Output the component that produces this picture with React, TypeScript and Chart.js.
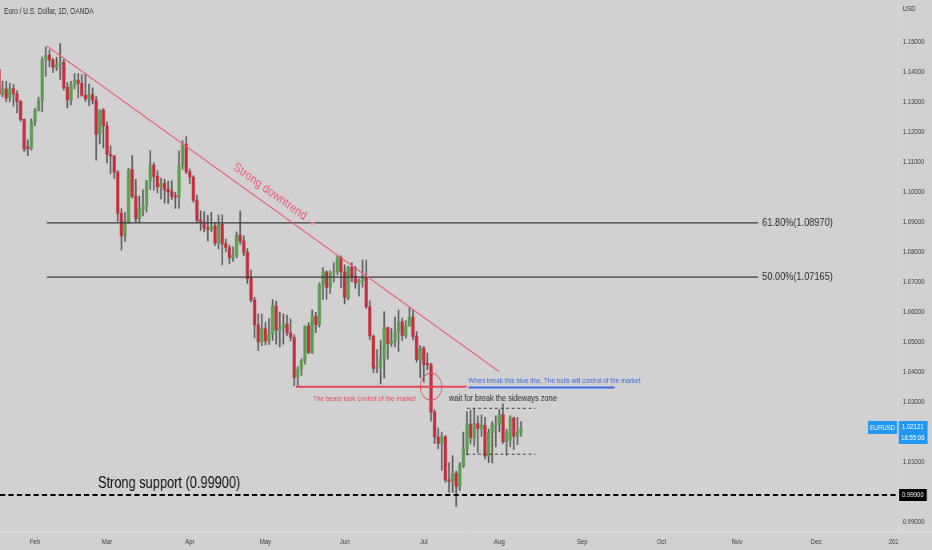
import React, { useEffect, useRef } from 'react';
import { Chart, registerables } from 'chart.js';

Chart.register(...registerables);

// ---- data (daily EUR/USD candles, index 0 = 18 Jan) ----
const candleOpen = [
  1.1408, 1.1325, 1.1344, 1.1313, 1.1345, 1.1327, 1.1302, 1.1242, 1.1150, 1.1145,
  1.1235, 1.1271, 1.1306, 1.1440, 1.1456, 1.1440, 1.1416, 1.1426, 1.1432, 1.1349,
  1.1307, 1.1357, 1.1373, 1.1362, 1.1322, 1.1310, 1.1325, 1.1305, 1.1193, 1.1273,
  1.1220, 1.1125, 1.1120, 1.1066, 1.0929, 1.0854, 1.0901, 1.1075, 1.0986, 1.0912,
  1.0941, 1.0955, 1.1037, 1.1090, 1.1052, 1.1017, 1.1029, 1.1009, 1.1001, 1.0986,
  1.0983, 1.1087, 1.1160, 1.1067, 1.1050, 1.0972, 1.0906, 1.0899, 1.0880, 1.0876,
  1.0886, 1.0830, 1.0892, 1.0827, 1.0815, 1.0780, 1.0790, 1.0856, 1.0836, 1.0799,
  1.0711, 1.0640, 1.0557, 1.0500, 1.0545, 1.0503, 1.0526, 1.0620, 1.0540, 1.0548,
  1.0560, 1.0530, 1.0515, 1.0382, 1.0410, 1.0438, 1.0553, 1.0465, 1.0585, 1.0558,
  1.0692, 1.0734, 1.0681, 1.0730, 1.0734, 1.0781, 1.0734, 1.0648, 1.0749, 1.0718,
  1.0697, 1.0705, 1.0716, 1.0617, 1.0520, 1.0412, 1.0416, 1.0446, 1.0548, 1.0495,
  1.0505, 1.0535, 1.0567, 1.0522, 1.0555, 1.0583, 1.0519, 1.0442, 1.0479, 1.0425,
  1.0424, 1.0266, 1.0183, 1.0162, 1.0185, 1.0040, 1.0035, 1.0061, 1.0019, 1.0086,
  1.0143, 1.0226, 1.0180, 1.0228, 1.0212, 1.0222, 1.0120, 1.0198, 1.0222, 1.0228,
  1.0258, 1.0168, 1.0172, 1.0247, 1.0185, 1.0198,
];
const candleHigh = [
  1.1429, 1.1370, 1.1369, 1.1363, 1.1359, 1.1338, 1.1305, 1.1243, 1.1174, 1.1244,
  1.1279, 1.1316, 1.1450, 1.1483, 1.1473, 1.1445, 1.1449, 1.1495, 1.1441, 1.1365,
  1.1369, 1.1395, 1.1395, 1.1391, 1.1395, 1.1360, 1.1347, 1.1318, 1.1274, 1.1278,
  1.1234, 1.1154, 1.1122, 1.1071, 1.0945, 1.0932, 1.1079, 1.1121, 1.1042, 1.0986,
  1.1007, 1.1038, 1.1138, 1.1097, 1.1071, 1.1046, 1.1042, 1.1036, 1.1037, 1.0999,
  1.1137, 1.1171, 1.1185, 1.1077, 1.1055, 1.0990, 1.0937, 1.0935, 1.0922, 1.0932,
  1.0899, 1.0923, 1.0924, 1.0843, 1.0823, 1.0817, 1.0867, 1.0936, 1.0854, 1.0811,
  1.0740, 1.0649, 1.0594, 1.0593, 1.0566, 1.0578, 1.0641, 1.0636, 1.0600, 1.0594,
  1.0590, 1.0577, 1.0524, 1.0418, 1.0444, 1.0553, 1.0565, 1.0606, 1.0599, 1.0697,
  1.0748, 1.0737, 1.0737, 1.0765, 1.0787, 1.0787, 1.0757, 1.0752, 1.0765, 1.0751,
  1.0710, 1.0774, 1.0773, 1.0637, 1.0524, 1.0475, 1.0505, 1.0601, 1.0549, 1.0545,
  1.0583, 1.0606, 1.0580, 1.0571, 1.0615, 1.0606, 1.0535, 1.0488, 1.0485, 1.0463,
  1.0430, 1.0274, 1.0213, 1.0200, 1.0188, 1.0097, 1.0121, 1.0070, 1.0097, 1.0200,
  1.0268, 1.0273, 1.0278, 1.0254, 1.0257, 1.0249, 1.0210, 1.0234, 1.0254, 1.0275,
  1.0294, 1.0210, 1.0254, 1.0250, 1.0248, 1.0235,
];
const candleLow = [
  1.1324, 1.1317, 1.1301, 1.1300, 1.1286, 1.1264, 1.1236, 1.1135, 1.1121, 1.1140,
  1.1220, 1.1270, 1.1268, 1.1385, 1.1418, 1.1398, 1.1405, 1.1375, 1.1340, 1.1280,
  1.1290, 1.1344, 1.1314, 1.1319, 1.1302, 1.1288, 1.1294, 1.1106, 1.1160, 1.1147,
  1.1097, 1.1061, 1.1045, 1.0902, 1.0806, 1.0835, 1.0896, 1.0980, 1.0900, 1.0897,
  1.0920, 1.0933, 1.1008, 1.1006, 1.0997, 1.0977, 1.0963, 1.0962, 1.0975, 1.0945,
  1.0945, 1.1075, 1.1061, 1.1028, 1.0965, 1.0898, 1.0872, 1.0867, 1.0837, 1.0869,
  1.0821, 1.0810, 1.0757, 1.0800, 1.0760, 1.0769, 1.0781, 1.0826, 1.0788, 1.0695,
  1.0634, 1.0514, 1.0471, 1.0488, 1.0490, 1.0492, 1.0505, 1.0493, 1.0484, 1.0493,
  1.0520, 1.0504, 1.0354, 1.0350, 1.0389, 1.0426, 1.0461, 1.0462, 1.0531, 1.0550,
  1.0642, 1.0643, 1.0661, 1.0700, 1.0724, 1.0680, 1.0627, 1.0641, 1.0701, 1.0679,
  1.0653, 1.0683, 1.0611, 1.0508, 1.0398, 1.0398, 1.0360, 1.0380, 1.0443, 1.0486,
  1.0484, 1.0469, 1.0505, 1.0513, 1.0552, 1.0508, 1.0434, 1.0381, 1.0366, 1.0407,
  1.0236, 1.0161, 1.0144, 1.0072, 1.0032, 0.9999, 0.9999, 0.9952, 1.0005, 1.0082,
  1.0124, 1.0160, 1.0153, 1.0130, 1.0185, 1.0110, 1.0098, 1.0097, 1.0150, 1.0200,
  1.0162, 1.0123, 1.0150, 1.0141, 1.0158, 1.0185,
];
const candleClose = [
  1.1325, 1.1344, 1.1313, 1.1345, 1.1327, 1.1302, 1.1242, 1.1144, 1.1145, 1.1235,
  1.1271, 1.1306, 1.1440, 1.1456, 1.1440, 1.1416, 1.1423, 1.1432, 1.1349, 1.1307,
  1.1357, 1.1373, 1.1362, 1.1322, 1.1310, 1.1325, 1.1305, 1.1193, 1.1273, 1.1220,
  1.1125, 1.1120, 1.1066, 1.0929, 1.0854, 1.0901, 1.1075, 1.0986, 1.0912, 1.0941,
  1.0955, 1.1037, 1.1090, 1.1052, 1.1017, 1.1028, 1.1009, 1.1001, 1.0986, 1.0983,
  1.1087, 1.1160, 1.1067, 1.1050, 1.0972, 1.0906, 1.0899, 1.0880, 1.0876, 1.0886,
  1.0830, 1.0892, 1.0827, 1.0815, 1.0780, 1.0790, 1.0856, 1.0836, 1.0799, 1.0711,
  1.0640, 1.0557, 1.0500, 1.0545, 1.0503, 1.0526, 1.0620, 1.0540, 1.0548, 1.0560,
  1.0530, 1.0515, 1.0382, 1.0410, 1.0438, 1.0553, 1.0465, 1.0585, 1.0558, 1.0692,
  1.0734, 1.0681, 1.0730, 1.0734, 1.0781, 1.0734, 1.0648, 1.0749, 1.0718, 1.0697,
  1.0705, 1.0716, 1.0617, 1.0520, 1.0412, 1.0416, 1.0446, 1.0548, 1.0495, 1.0505,
  1.0535, 1.0567, 1.0522, 1.0555, 1.0583, 1.0519, 1.0442, 1.0479, 1.0425, 1.0424,
  1.0266, 1.0183, 1.0162, 1.0185, 1.0040, 1.0035, 1.0061, 1.0019, 1.0086, 1.0143,
  1.0226, 1.0180, 1.0228, 1.0212, 1.0222, 1.0120, 1.0198, 1.0222, 1.0228, 1.0258,
  1.0168, 1.0200, 1.0247, 1.0185, 1.0198, 1.0212,
];

const monthTickIndex = [10, 30, 53, 74, 96, 118, 139, 162, 184, 205, 227, 249];
const monthTickLabels = ['Feb', 'Mar', 'Apr', 'May', 'Jun', 'Jul', 'Aug', 'Sep', 'Oct', 'Nov', 'Dec', '2023'];
const priceTicks = [0.99, 1.00, 1.01, 1.02, 1.03, 1.04, 1.05, 1.06, 1.07, 1.08, 1.09, 1.10, 1.11, 1.12, 1.13, 1.14, 1.15];

// annotations (index / price anchored)
const trendLine = { i0: 13.25, p0: 1.14867, i1: 139.0, p1: 1.0401 };
const fibLevels = [
  { price: 1.0897, label: '61.80%(1.08970)' },
  { price: 1.07165, label: '50.00%(1.07165)' },
];
const fibStartIndex = 13.3;
const fibLabelIndex = 212.0;
const bearsLine = { i0: 82.5, i1: 129.9, price: 1.0351 };
const bullsLine = { i0: 130.4, i1: 171.0, price: 1.0348 };
const circleAt = { i: 120.0, price: 1.0351 };
const sidewaysBox = { i0: 130.0, i1: 149.0, top: 1.0279, bottom: 1.0126 };
const supportPrice = 0.999;
const currentPrice = 1.02121;

const SX = 0.8; // the reference is horizontally compressed
const DISPLAY_W = 932;
const H = 550;
const W = DISPLAY_W / SX;
const PLOT_RIGHT = 898 / SX;
const PLOT_BOTTOM = 531;
const X_MIN = 0.2778;
const X_MAX = 249.72;
const Y_MIN = 0.987;
const Y_MAX = 1.164;

const BG = '#d1d1d1';
const FONT = "'Liberation Sans', Arial, sans-serif";
const UP = '#5a9e4f';
const DOWN = '#c32f3e';
const WICK = '#585858';
const PINK = '#ee5a78';
const RED = '#e44955';
const BLUE = '#3f67e0';
const SEP = '#dedede';

const overlayPlugin = {
  id: 'overlay',
  beforeDraw(chart: any) {
    const { ctx } = chart;
    ctx.save();
    ctx.fillStyle = BG;
    ctx.fillRect(0, 0, chart.width, chart.height);
    ctx.restore();
  },
  afterDatasetsDraw(chart: any) {
    const { ctx, chartArea: ca } = chart;
    const xs = chart.scales.x;
    const ys = chart.scales.y;
    const X = (i: number) => xs.getPixelForValue(i);
    const Y = (p: number) => ys.getPixelForValue(p);
    ctx.save();
    ctx.beginPath();
    ctx.rect(ca.left, ca.top, ca.right - ca.left, ca.bottom - ca.top);
    ctx.clip();

    // fib lines
    ctx.strokeStyle = '#3a3a3a';
    ctx.lineWidth = 1.2;
    ctx.font = `11.5px ${FONT}`;
    ctx.textBaseline = 'middle';
    ctx.textAlign = 'left';
    fibLevels.forEach((f) => {
      const y = Y(f.price);
      ctx.beginPath();
      ctx.moveTo(X(fibStartIndex), y);
      ctx.lineTo(X(fibLabelIndex) - 5, y);
      ctx.stroke();
      ctx.fillStyle = '#2e2e2e';
      ctx.fillText(f.label, X(fibLabelIndex), y);
    });

    // trend line
    const tx0 = X(trendLine.i0), ty0 = Y(trendLine.p0);
    const tx1 = X(trendLine.i1), ty1 = Y(trendLine.p1);
    ctx.strokeStyle = PINK;
    ctx.lineWidth = 1.1;
    ctx.beginPath();
    ctx.moveTo(tx0, ty0);
    ctx.lineTo(tx1, ty1);
    ctx.stroke();
    const ang = Math.atan2(ty1 - ty0, tx1 - tx0);
    ctx.save();
    ctx.translate(X(65.4), Y(1.1086));
    ctx.rotate(ang);
    ctx.fillStyle = PINK;
    ctx.font = `13px ${FONT}`;
    ctx.textAlign = 'left';
    ctx.textBaseline = 'middle';
    ctx.fillText('Strong downtrend', 0, 0);
    const w = ctx.measureText('Strong downtrend ').width;
    ctx.fillStyle = '#f2a0b0';
    ctx.font = `12px 'DejaVu Sans', sans-serif`;
    ctx.fillText('\u219D', w, 1);
    ctx.restore();

    // support dashed line
    const sy = Y(supportPrice);
    ctx.strokeStyle = '#000';
    ctx.lineWidth = 1.8;
    ctx.setLineDash([6.5, 4]);
    ctx.beginPath();
    ctx.moveTo(ca.left, sy);
    ctx.lineTo(ca.right, sy);
    ctx.stroke();
    ctx.setLineDash([]);
    ctx.fillStyle = '#111';
    ctx.font = `16px ${FONT}`;
    ctx.textBaseline = 'middle';
    ctx.fillText('Strong support (0.99900)', X(27.5), Y(1.00267));

    // bears red line + circle + text
    ctx.strokeStyle = RED;
    ctx.lineWidth = 2;
    ctx.beginPath();
    ctx.moveTo(X(bearsLine.i0), Y(bearsLine.price));
    ctx.lineTo(X(bearsLine.i1), Y(bearsLine.price));
    ctx.stroke();
    ctx.lineWidth = 1;
    ctx.beginPath();
    ctx.arc(X(circleAt.i), Y(circleAt.price), 13.6, 0, Math.PI * 2);
    ctx.stroke();
    ctx.fillStyle = RED;
    ctx.font = `8px ${FONT}`;
    ctx.textAlign = 'center';
    ctx.fillText('The bears took control of the market', X(101.5), Y(1.031));

    // bulls blue line + text
    ctx.strokeStyle = BLUE;
    ctx.lineWidth = 2;
    ctx.beginPath();
    ctx.moveTo(X(bullsLine.i0), Y(bullsLine.price));
    ctx.lineTo(X(bullsLine.i1), Y(bullsLine.price));
    ctx.stroke();
    ctx.fillStyle = BLUE;
    ctx.textAlign = 'left';
    ctx.font = `8px ${FONT}`;
    ctx.fillText('When break this blue line, The bulls will control of the market', X(130.4), Y(1.0371));

    // sideways zone
    ctx.strokeStyle = '#3c3c3c';
    ctx.lineWidth = 1;
    ctx.setLineDash([3.5, 3.5]);
    [sidewaysBox.top, sidewaysBox.bottom].forEach((p) => {
      ctx.beginPath();
      ctx.moveTo(X(sidewaysBox.i0), Y(p));
      ctx.lineTo(X(sidewaysBox.i1), Y(p));
      ctx.stroke();
    });
    ctx.setLineDash([]);
    ctx.fillStyle = '#2b2b2b';
    ctx.font = `9.3px ${FONT}`;
    ctx.fillText('wait for break the sideways zone', X(125.0), Y(1.0311));

    ctx.restore();
  },
  afterDraw(chart: any) {
    const { ctx, chartArea: ca } = chart;
    const ys = chart.scales.y;
    ctx.save();
    // bottom-right corner box and pane separators
    ctx.fillStyle = BG;
    ctx.fillRect(ca.right + 0.5, ca.bottom + 0.5, chart.width - ca.right, chart.height - ca.bottom);
    ctx.strokeStyle = SEP;
    ctx.lineWidth = 1;
    ctx.beginPath();
    ctx.moveTo(ca.right + 0.5, 0);
    ctx.lineTo(ca.right + 0.5, chart.height);
    ctx.moveTo(0, ca.bottom + 0.5);
    ctx.lineTo(chart.width, ca.bottom + 0.5);
    ctx.stroke();

    // title + currency
    ctx.fillStyle = '#333';
    ctx.font = `8.2px ${FONT}`;
    ctx.textAlign = 'left';
    ctx.textBaseline = 'middle';
    ctx.fillText('Euro / U.S. Dollar, 1D, OANDA', 5, 11.5);
    ctx.font = `7.5px ${FONT}`;
    ctx.fillText('USD', ca.right + 6, 9);

    // current price tags
    const py = ys.getPixelForValue(currentPrice);
    ctx.fillStyle = '#2196f3';
    ctx.fillRect(868 / SX, py - 7.4, 29 / SX, 13);
    ctx.fillRect(ca.right + 1, py - 7.4, 36, 23);
    ctx.fillStyle = '#fff';
    ctx.textAlign = 'center';
    ctx.font = `7.5px ${FONT}`;
    ctx.fillText('EURUSD', (868 + 14.5) / SX, py - 0.9);
    ctx.fillText(currentPrice.toFixed(5), ca.right + 18.5, py - 1);
    ctx.fillText('18:55:06', ca.right + 18.5, py + 10);

    // support price tag
    const sy = ys.getPixelForValue(supportPrice);
    ctx.fillStyle = '#000';
    ctx.fillRect(ca.right + 1.5, sy - 6, 34.5, 12);
    ctx.fillStyle = '#fff';
    ctx.fillText(supportPrice.toFixed(5), ca.right + 18.5, sy + 0.3);
    ctx.restore();
  },
};

export default function App() {
  const ref = useRef<HTMLCanvasElement | null>(null);
  useEffect(() => {
    const canvas = ref.current;
    if (!canvas) return;
    const idx = candleOpen.map((_, i) => i);
    const wickData = idx.map((i) => ({ x: i, y: [candleLow[i], candleHigh[i]] }));
    const bodyData = idx.map((i) => ({ x: i, y: [candleOpen[i], candleClose[i]] }));
    const bodyColors = idx.map((i) => (candleClose[i] >= candleOpen[i] ? UP : DOWN));
    const chart = new Chart(canvas, {
      type: 'bar',
      data: {
        datasets: [
          {
            data: bodyData as any,
            backgroundColor: bodyColors,
            borderWidth: 0,
            grouped: false,
            barPercentage: 1,
            categoryPercentage: 1,
            maxBarThickness: 3.3,
            minBarLength: 1.2,
            order: 1,
          } as any,
          {
            data: wickData as any,
            backgroundColor: WICK,
            borderWidth: 0,
            grouped: false,
            barPercentage: 1,
            categoryPercentage: 1,
            maxBarThickness: 1.25,
            order: 2,
          } as any,
        ],
      },
      options: {
        responsive: false,
        maintainAspectRatio: false,
        animation: false,
        devicePixelRatio: 1,
        events: [],
        layout: { padding: 0 },
        plugins: { legend: { display: false }, tooltip: { enabled: false } },
        scales: {
          x: {
            type: 'linear',
            min: X_MIN,
            max: X_MAX,
            offset: false,
            grid: { display: false, drawTicks: false, offset: false },
            border: { display: false },
            afterBuildTicks: (s: any) => {
              s.ticks = monthTickIndex.map((v) => ({ value: v }));
            },
            afterFit: (s: any) => {
              s.height = H - PLOT_BOTTOM;
              s.paddingLeft = 0;
              s.paddingRight = 0;
            },
            ticks: {
              autoSkip: false,
              maxRotation: 0,
              padding: 6,
              color: '#3a3a3a',
              font: { family: FONT, size: 7.5 },
              callback: (_v: any, i: number) => monthTickLabels[i],
            },
          },
          y: {
            type: 'linear',
            position: 'right',
            min: Y_MIN,
            max: Y_MAX,
            grid: { display: false, drawTicks: false },
            border: { display: false },
            afterBuildTicks: (s: any) => {
              s.ticks = priceTicks.map((v) => ({ value: v }));
            },
            afterFit: (s: any) => {
              s.width = W - PLOT_RIGHT;
              s.paddingTop = 0;
              s.paddingBottom = 0;
            },
            ticks: {
              padding: 6,
              color: '#3a3a3a',
              font: { family: FONT, size: 7.5 },
              callback: (v: any) => Number(v).toFixed(5),
            },
          },
        },
      } as any,
      plugins: [overlayPlugin],
    });
    return () => chart.destroy();
  }, []);
  return (
    <div style={{ position: 'fixed', left: 0, top: 0, width: DISPLAY_W, height: H, background: BG }}>
      <canvas ref={ref} width={W} height={H} style={{ width: `${DISPLAY_W}px`, height: `${H}px`, display: 'block' }} />
    </div>
  );
}
